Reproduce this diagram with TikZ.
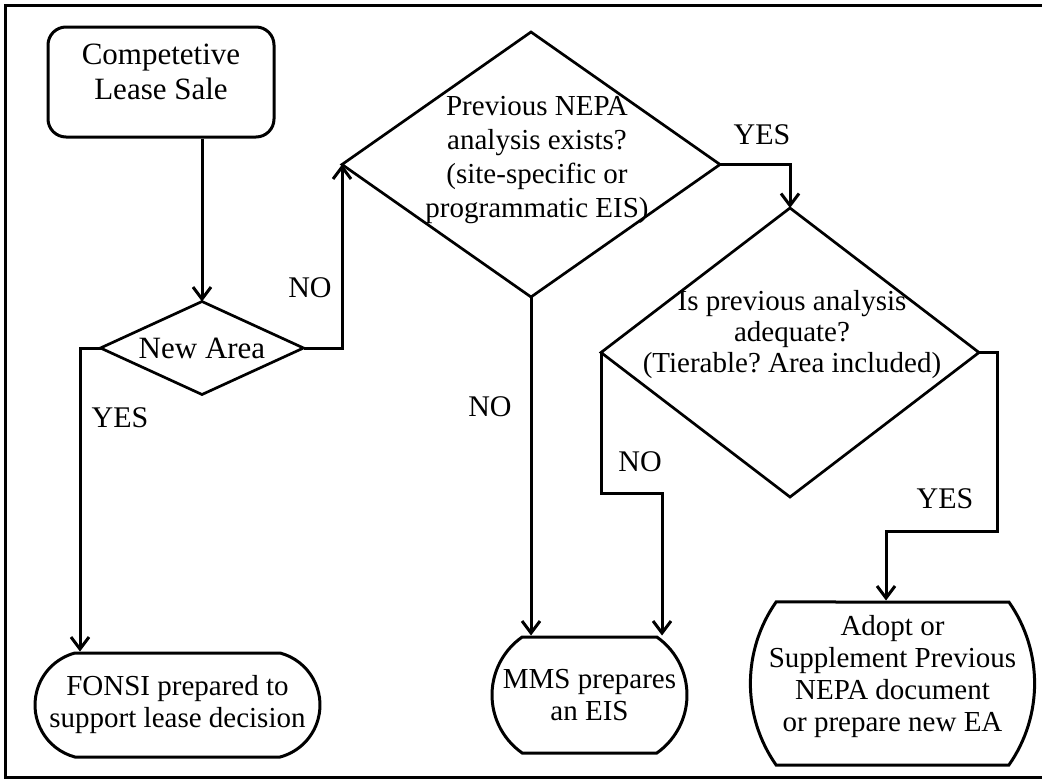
\documentclass[tikz,border=0pt]{standalone}
\usepackage{fontspec}
\setmainfont{Liberation Serif}
\frenchspacing
\usetikzlibrary{arrows.meta,shapes.geometric,shapes.misc,positioning,calc}

\tikzset{
  startbox/.style={draw, line width=3pt, rounded corners=18pt, align=center,
    minimum width=226pt, minimum height=110pt, font=\fontsize{31}{35}\selectfont},
  terminal/.style={draw, rounded rectangle, line width=3pt, align=center,
    inner sep=0pt, font=\fontsize{29}{32}\selectfont},
  decision/.style={draw, diamond, line width=2.7pt, inner sep=0pt, outer sep=0pt},
  dtext/.style={align=center, inner sep=0pt, font=\fontsize{29}{34}\selectfont},
  lbl/.style={inner sep=0pt, font=\fontsize{30}{34}\selectfont},
  flow/.style={line width=3pt, -{Straight Barb[length=12pt,width=18pt]}}
}

\begin{document}
\begin{tikzpicture}[x=1pt,y=-1pt]
			% Frame
			\useasboundingbox (0,0) rectangle (1042,779);
			\draw[line width=3pt] (1060,5.5) -- (5.5,5.5) -- (5.5,777) -- (1060,777);
			
			% Start and end boxes
			\node[startbox, text depth=20pt] (sale) at (161,82) {Competetive\\Lease Sale};
			\node[terminal, minimum width=285pt, minimum height=104pt, rounded rectangle arc length=150] (fonsi) at (177.5,705) {FONSI prepared to\\support lease decision};
			\node[terminal, minimum width=195pt, minimum height=116pt, rounded rectangle arc length=110] (eis) at (589.5,695) {MMS prepares\\an EIS};
			\node[terminal, minimum width=261pt, minimum height=163pt, rounded rectangle arc length=70, text depth=21pt] (adopt) at (892.5,683.5) {Adopt or\\Supplement Previous\\NEPA document\\or prepare new EA};
			
			% Decisions
			\node[decision, minimum width=203pt, minimum height=93pt] (area) at (202,348) {};
			\node[dtext, font=\fontsize{31}{34}\selectfont] (areatxt) at (area.center) {New Area};
			\node[decision, minimum width=378pt, minimum height=265pt] (nepa) at (531,164.5) {};
			\node[dtext] (nepatxt) at (537,160) {Previous NEPA\\analysis exists?\\(site-specific or\\programmatic EIS)};
			\node[decision, minimum width=378pt, minimum height=289pt] (adeq) at (790,352.5) {};
			\node[dtext, font=\fontsize{29}{31}\selectfont] (adeqtxt) at (792,335) {Is previous analysis\\adequate?\\(Tierable? Area included)};
			
			% Connectors
			\draw[flow] (area.north |- sale.south) -- (area.north);
			\draw[flow] (area.east) -| (nepa.west);
			\draw[flow] (area.west) -| ([xshift=-97.5pt]fonsi.north);
			\draw[flow] (nepa.east) -| (adeq.north);
			\draw[flow] (nepa.south) -- (nepa.south |- eis.north);
			\draw[flow] (adeq.west) -- ++(0,141) -| ([xshift=72.5pt]eis.north);
			\draw[flow] (adeq.east) -- ++(18,0) -- ++(0,179) -| ([xshift=-6.5pt]adopt.north);
			
			% Answers
			\foreach \nm/\pos/\txt in {no1/{(310,288)}/NO, yes1/{(120,418)}/YES, no2/{(490,407)}/NO,
			  yes2/{(762,135)}/YES, no3/{(640,462)}/NO, yes3/{(945,499)}/YES}
			  \node[lbl] (\nm) at \pos {\txt};
		\end{tikzpicture}
\end{document}
